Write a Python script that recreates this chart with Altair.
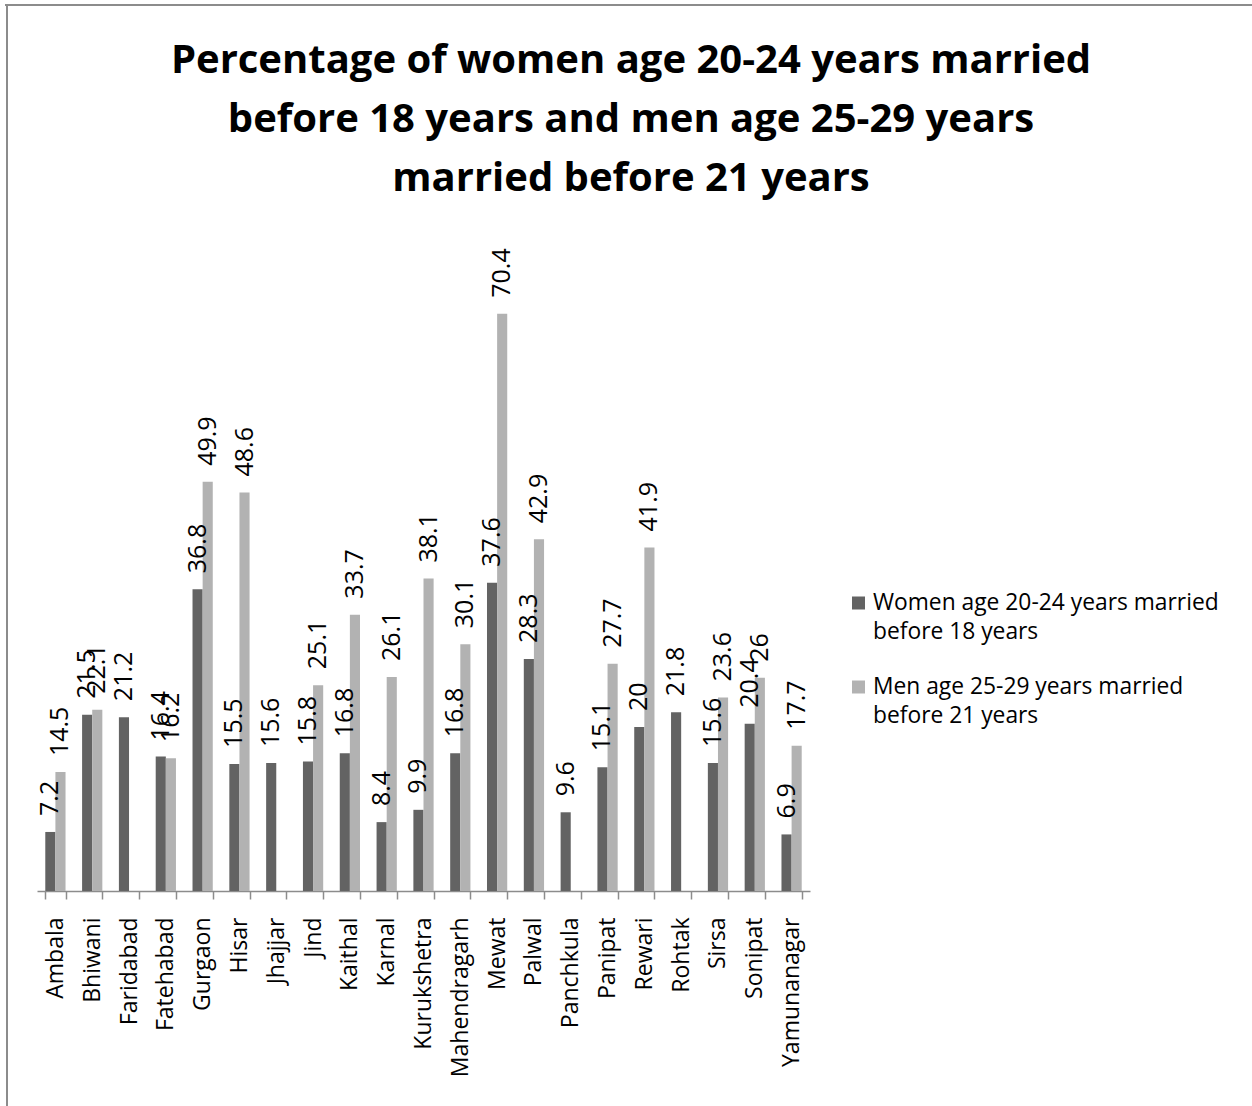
import altair as alt
import pandas as pd

districts = [
    "Ambala", "Bhiwani", "Faridabad", "Fatehabad", "Gurgaon", "Hisar", "Jhajjar",
    "Jind", "Kaithal", "Karnal", "Kurukshetra", "Mahendragarh", "Mewat", "Palwal",
    "Panchkula", "Panipat", "Rewari", "Rohtak", "Sirsa", "Sonipat", "Yamunanagar",
]
women_pct = [7.2, 21.5, 21.2, 16.4, 36.8, 15.5, 15.6, 15.8, 16.8, 8.4, 9.9,
             16.8, 37.6, 28.3, 9.6, 15.1, 20, 21.8, 15.6, 20.4, 6.9]
men_pct = [14.5, 22.1, None, 16.2, 49.9, 48.6, None, 25.1, 33.7, 26.1, 38.1,
           30.1, 70.4, 42.9, None, 27.7, 41.9, None, 23.6, 26, 17.7]

women_name = "Women age 20-24 years married before 18 years"
men_name = "Men age 25-29 years married before 21 years"
series_names = [women_name, men_name]
series_colors = ["#636363", "#b2b2b2"]
legend_lines = [
    ["Women age 20-24 years married", "before 18 years"],
    ["Men age 25-29 years married", "before 21 years"],
]

title_lines = [
    "Percentage of women age 20-24 years married",
    "before 18 years and men age 25-29 years",
    "married before 21 years",
]

rows = []
for d, w, m in zip(districts, women_pct, men_pct):
    rows.append({"district": d, "series": women_name, "value": w})
    if m is not None:
        rows.append({"district": d, "series": men_name, "value": m})
df = pd.DataFrame(rows)

FONT = "Open Sans"
PLOT_W, PLOT_H = 773, 656
PAD_L, PAD_T = 37, 235
CANVAS_W, CANVAS_H = 1252, 1106

x_enc = alt.X(
    "district:N",
    sort=districts,
    scale=alt.Scale(paddingInner=0.45, paddingOuter=0.225),
    axis=alt.Axis(
        title=None,
        labelAngle=270,
        labelFont=FONT,
        labelFontSize=23,
        labelColor="#000000",
        labelPadding=18,
        labelLimit=300,
        tickBand="extent",
        tickSize=8,
        tickColor="#8c8c8c",
        domainColor="#8c8c8c",
        domainWidth=1.5,
        tickWidth=1.5,
        grid=False,
    ),
)
xoff_enc = alt.XOffset("series:N", sort=series_names,
                       scale=alt.Scale(paddingInner=0, paddingOuter=0))
y_enc = alt.Y("value:Q", scale=alt.Scale(domain=[0, 80]), axis=None)

bars = alt.Chart(df).mark_bar().encode(
    x=x_enc,
    xOffset=xoff_enc,
    y=y_enc,
    color=alt.Color("series:N",
                    scale=alt.Scale(domain=series_names, range=series_colors),
                    legend=None),
)

labels = alt.Chart(df).mark_text(
    angle=270, align="left", baseline="middle", dx=16,
    font=FONT, fontSize=25, color="#000000",
).encode(
    x=x_enc,
    xOffset=xoff_enc,
    y=y_enc,
    text=alt.Text("value:Q"),
)

one_row = pd.DataFrame({"k": [0]})

# chart title, three centred lines
title = alt.Chart(one_row).mark_text(
    align="center", baseline="alphabetic", font=FONT, fontSize=40,
    fontWeight="bold", lineHeight=59, color="#000000", text=title_lines,
).encode(x=alt.value(631 - PAD_L), y=alt.value(73 - PAD_T))

# hand-drawn legend to the right of the plot
legend_layers = []
for i, (lines, col) in enumerate(zip(legend_lines, series_colors)):
    sq_y = 368 + i * 84
    legend_layers.append(
        alt.Chart(one_row).mark_square(size=169, color=col, opacity=1).encode(
            x=alt.value(821.5), y=alt.value(sq_y)
        )
    )
    legend_layers.append(
        alt.Chart(one_row).mark_text(
            align="left", baseline="alphabetic", font=FONT, fontSize=22.8,
            lineHeight=29, color="#000000", text=lines,
        ).encode(x=alt.value(836), y=alt.value(sq_y + 7))
    )

# outer frame (top and left edges)
frame_top = alt.Chart(one_row).mark_rule(color="#8c8c8c", strokeWidth=2).encode(
    x=alt.value(5 - PAD_L), x2=alt.value(CANVAS_W - PAD_L), y=alt.value(5 - PAD_T)
)
frame_left = alt.Chart(one_row).mark_rule(color="#8c8c8c", strokeWidth=2).encode(
    x=alt.value(7 - PAD_L), y=alt.value(5 - PAD_T), y2=alt.value(CANVAS_H - PAD_T)
)

chart = alt.layer(
    bars, labels, title, *legend_layers, frame_top, frame_left
).properties(
    width=PLOT_W,
    height=PLOT_H,
    padding={"left": PAD_L, "top": PAD_T,
             "right": CANVAS_W - PAD_L - PLOT_W,
             "bottom": CANVAS_H - PAD_T - PLOT_H},
    autosize=alt.AutoSizeParams(type="none"),
).configure(
    background="#ffffff",
).configure_view(
    strokeOpacity=0,
)

chart.save("out.html", embed_options={"renderer": "svg", "actions": False})
